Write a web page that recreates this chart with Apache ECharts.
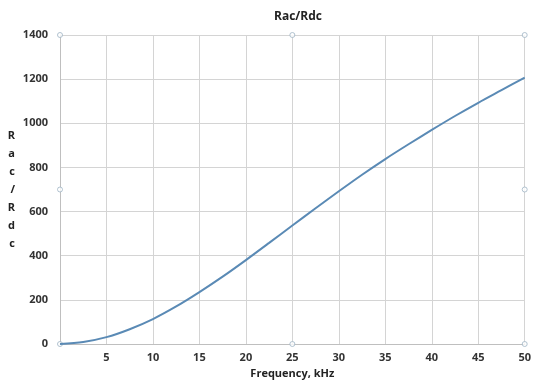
<!DOCTYPE html>
<html>
<head>
<meta charset="utf-8">
<script src="https://cdn.jsdelivr.net/npm/echarts@6/dist/echarts.min.js"></script>
<style>
  html, body { margin: 0; padding: 0; background: #fff; }
  #chart { width: 534px; height: 385px; }
</style>
</head>
<body>
<div id="chart"></div>
<script>
// frequency, kHz
const freq = [0, 2.5, 5, 7.5, 10, 12.5, 15, 17.5, 20, 22.5, 25, 27.5, 30, 32.5, 35, 37.5, 40, 42.5, 45, 47.5, 50];
// Rac/Rdc ratio
const ratio = [0, 9, 31, 67, 113, 170, 235, 305, 380, 458, 537, 615, 692, 767, 838, 905, 970, 1033, 1093, 1150, 1207];
// selection handles on the plot area (Excel look)
const handles = [[0, 0], [25, 0], [50, 0], [0, 700], [50, 700], [0, 1400], [25, 1400], [50, 1400]];

const font = 'Open Sans';
const chart = echarts.init(document.getElementById('chart'));

chart.setOption({
  animation: false,
  title: {
    text: 'Rac/Rdc',
    left: 293, top: 6, textAlign: 'center',
    textStyle: { fontFamily: font, fontSize: 12, fontWeight: 'bold', color: '#222' }
  },
  grid: { left: 60, right: 6, top: 35, bottom: 41 },
  xAxis: {
    type: 'value', min: 0, max: 50, interval: 5,
    name: 'Frequency, kHz', nameLocation: 'middle', nameGap: 17,
    nameTextStyle: { fontFamily: font, fontSize: 11, fontWeight: 'bold', color: '#222' },
    axisLine: { lineStyle: { color: '#bfbfbf' } },
    axisTick: { show: false },
    axisLabel: {
      fontFamily: font, fontSize: 11, fontWeight: 'bold', color: '#333', margin: 8,
      formatter: v => (v === 0 ? '' : String(v))
    },
    splitLine: { lineStyle: { color: '#d4d4d4' } }
  },
  yAxis: {
    type: 'value', min: 0, max: 1400, interval: 200,
    name: 'R\na\nc\n/\nR\nd\nc', nameLocation: 'middle', nameRotate: 0, nameGap: 45,
    nameTextStyle: { fontFamily: font, fontSize: 11, fontWeight: 'bold', color: '#222', lineHeight: 18 },
    axisLine: { show: true, lineStyle: { color: '#bfbfbf' } },
    axisTick: { show: false },
    axisLabel: {
      fontFamily: font, fontSize: 11, fontWeight: 'bold', color: '#333', margin: 12,
      formatter: v => String(v)
    },
    splitLine: { lineStyle: { color: '#d4d4d4' } }
  },
  series: [
    {
      type: 'line',
      data: freq.map((f, i) => [f, ratio[i]]),
      smooth: 0.3,
      showSymbol: false,
      lineStyle: { color: '#5a8ab5', width: 2 }
    },
    {
      type: 'scatter',
      data: handles,
      symbol: 'circle', symbolSize: 5,
      itemStyle: { color: '#fff', borderColor: '#9fb4c4', borderWidth: 1 },
      silent: true
    }
  ]
});
</script>
</body>
</html>
